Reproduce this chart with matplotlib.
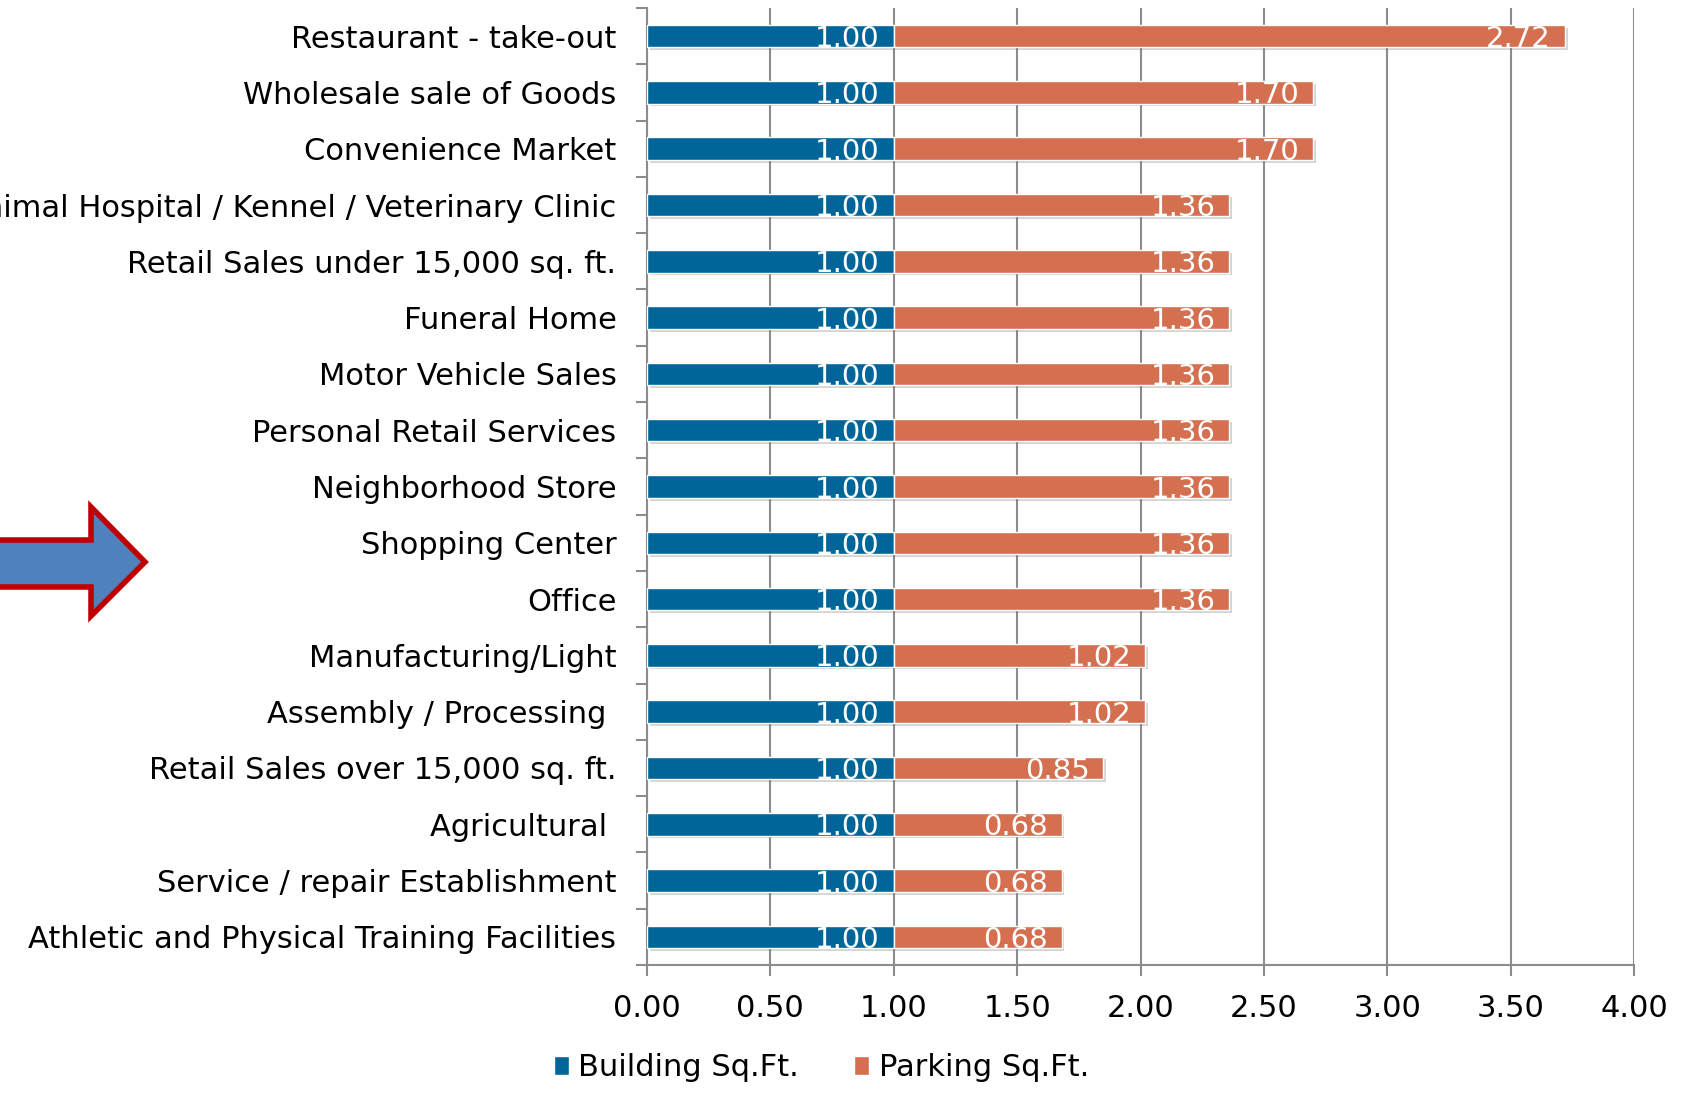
import numpy as np
import matplotlib
matplotlib.use("Agg")
import matplotlib.pyplot as plt
import matplotlib.patheffects as pe
from matplotlib.patches import Polygon

# Data, top to bottom as shown in the chart
categories = [
    "Restaurant - take-out",
    "Wholesale sale of Goods",
    "Convenience Market",
    "Animal Hospital / Kennel / Veterinary Clinic",
    "Retail Sales under 15,000 sq. ft.",
    "Funeral Home",
    "Motor Vehicle Sales",
    "Personal Retail Services",
    "Neighborhood Store",
    "Shopping Center",
    "Office",
    "Manufacturing/Light",
    "Assembly / Processing ",
    "Retail Sales over 15,000 sq. ft.",
    "Agricultural ",
    "Service / repair Establishment",
    "Athletic and Physical Training Facilities",
]
building = [1.00] * 17
parking = [2.72, 1.70, 1.70, 1.36, 1.36, 1.36, 1.36, 1.36, 1.36, 1.36, 1.36,
           1.02, 1.02, 0.85, 0.68, 0.68, 0.68]
x_ticks = [0.0, 0.5, 1.0, 1.5, 2.0, 2.5, 3.0, 3.5, 4.0]

BLUE = "#006699"
ORANGE = "#D4704F"
GRID = "#8C8C8C"
FS = 22

plt.rcParams["font.family"] = "DejaVu Sans"

fig = plt.figure(figsize=(17.04, 10.96), dpi=100)
ax = fig.add_axes([647 / 1704, 1 - 965 / 1096, 987 / 1704, 957 / 1096])

n = len(categories)
ys = np.arange(n)
shadow = [pe.SimplePatchShadow(offset=(2, -2), alpha=0.25, shadow_rgbFace="#555555"), pe.Normal()]

b1 = ax.barh(ys, building, height=0.4, color=BLUE, edgecolor="white", linewidth=1,
             label="Building Sq.Ft.", zorder=3)
b2 = ax.barh(ys, parking, left=building, height=0.4, color=ORANGE, edgecolor="white",
             linewidth=1, label="Parking Sq.Ft.", zorder=3)
for bars in (b1, b2):
    for p in bars:
        p.set_path_effects(shadow)

# value labels, right-aligned inside the end of each segment
for bars, vals in ((b1, building), (b2, parking)):
    for p, v in zip(bars, vals):
        ax.annotate(f"{v:.2f}", xy=(p.get_x() + p.get_width(), p.get_y() + p.get_height() / 2),
                    xytext=(-10, 0), textcoords="offset points", ha="right",
                    va="center_baseline", color="white", fontsize=FS - 1, zorder=4)

ax.set_xlim(0, 4)
ax.set_ylim(n - 0.5, -0.5)
ax.set_xticks(x_ticks)
ax.set_xticklabels([f"{t:.2f}" for t in x_ticks], fontsize=FS)
ax.set_yticks(ys)
ax.set_yticklabels(categories, fontsize=FS)
ax.set_yticks(np.arange(-0.5, n, 1.0), minor=True)
ax.tick_params(axis="y", which="major", length=0, pad=22)
ax.tick_params(axis="y", which="minor", length=8, width=1.5, color=GRID, direction="out")
ax.tick_params(axis="x", length=8, width=1.5, color=GRID, direction="out", pad=13)

ax.grid(axis="x", color=GRID, linewidth=1.5, zorder=0)
ax.set_axisbelow(True)
for s in ("top", "right"):
    ax.spines[s].set_visible(False)
for s in ("left", "bottom"):
    ax.spines[s].set_color(GRID)
    ax.spines[s].set_linewidth(1.5)

leg = fig.legend(handles=[b1, b2], loc="center", bbox_to_anchor=(0.482, 0.026), ncol=2,
                 frameon=False, fontsize=FS, handlelength=0.5, handleheight=0.6,
                 handletextpad=0.3, columnspacing=1.8)
for h in leg.legend_handles:
    h.set_path_effects([])

# Callout arrow on the left (figure pixel coordinates)
W, H = 1704, 1096
arrow_px = [(-10, 540), (91, 540), (91, 507), (145, 562), (91, 616), (91, 587), (-10, 587)]
arrow = Polygon([(x / W, 1 - y / H) for x, y in arrow_px], closed=True,
                transform=fig.transFigure, facecolor="#4F81BD", edgecolor="#C00000",
                linewidth=4, joinstyle="miter")
fig.patches.append(arrow)

fig.savefig("out.png", dpi=100)
